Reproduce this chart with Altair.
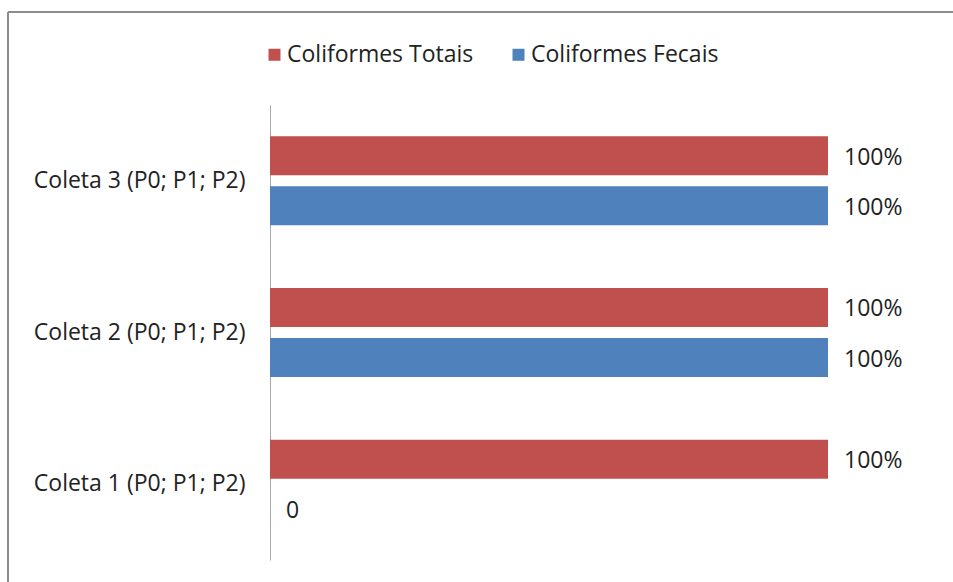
import altair as alt
import pandas as pd

# Percentage of positive samples per collection
coletas = ["Coleta 1 (P0; P1; P2)", "Coleta 2 (P0; P1; P2)", "Coleta 3 (P0; P1; P2)"]
totais = [100, 100, 100]
fecais = [0, 100, 100]
series = ["Coliformes Totais", "Coliformes Fecais"]
cores = ["#C0504D", "#4F81BD"]

rows = []
for c, t, f in zip(coletas, totais, fecais):
    for s, v in zip(series, (t, f)):
        rows.append({"coleta": c, "serie": s, "valor": v,
                     "rotulo": f"{v}%" if v else "0"})
df = pd.DataFrame(rows)

FONT = "Open Sans"
FS = 23
ordem_y = list(reversed(coletas))

y_enc = alt.Y("coleta:N", sort=ordem_y, title=None,
              scale=alt.Scale(paddingInner=0.413, paddingOuter=0.2065),
              axis=alt.Axis(domainColor="#a6a6a6", domainWidth=1, ticks=False,
                            labelFontSize=FS, labelFont=FONT, labelColor="#222",
                            labelPadding=25, labelLimit=400))
yoff = alt.YOffset("serie:N", sort=series,
                   scale=alt.Scale(paddingInner=0.22, paddingOuter=0))

base = alt.Chart(df).encode(y=y_enc, yOffset=yoff)

bars = base.mark_bar().encode(
    x=alt.X("valor:Q", scale=alt.Scale(domain=[0, 100]), axis=None),
    color=alt.Color("serie:N", sort=series,
                    scale=alt.Scale(domain=series, range=cores),
                    legend=alt.Legend(title=None, orient="none", direction="horizontal",
                                      legendX=-7, legendY=-62, symbolType="square",
                                      symbolSize=144, symbolStrokeWidth=0,
                                      labelFontSize=FS, labelFont=FONT,
                                      labelColor="#222", labelOffset=1,
                                      labelLimit=400, columnPadding=33)),
)

labels = base.mark_text(align="left", baseline="middle", dx=16, dy=2, fontSize=FS,
                        font=FONT, color="#222").encode(
    x=alt.X("valor:Q"),
    text="rotulo:N",
)

# Outer chart frame (top and left edges)
frame_top = alt.Chart(pd.DataFrame({"k": [0]})).mark_rule(
    color="#8c8c8c", strokeWidth=2).encode(
    x=alt.value(-262), x2=alt.value(700), y=alt.value(-93))
frame_left = alt.Chart(pd.DataFrame({"k": [0]})).mark_rule(
    color="#8c8c8c", strokeWidth=2).encode(
    x=alt.value(-262), y=alt.value(-93), y2=alt.value(500))

chart = alt.layer(frame_top, frame_left, bars, labels).properties(
    width=558, height=455,
    background="white",
    autosize=alt.AutoSizeParams(type="none"),
    padding={"left": 270, "top": 105, "right": 125, "bottom": 22},
).configure_view(strokeWidth=0, stroke="transparent")

chart.save("out.html", embed_options={"renderer": "svg", "actions": False})
